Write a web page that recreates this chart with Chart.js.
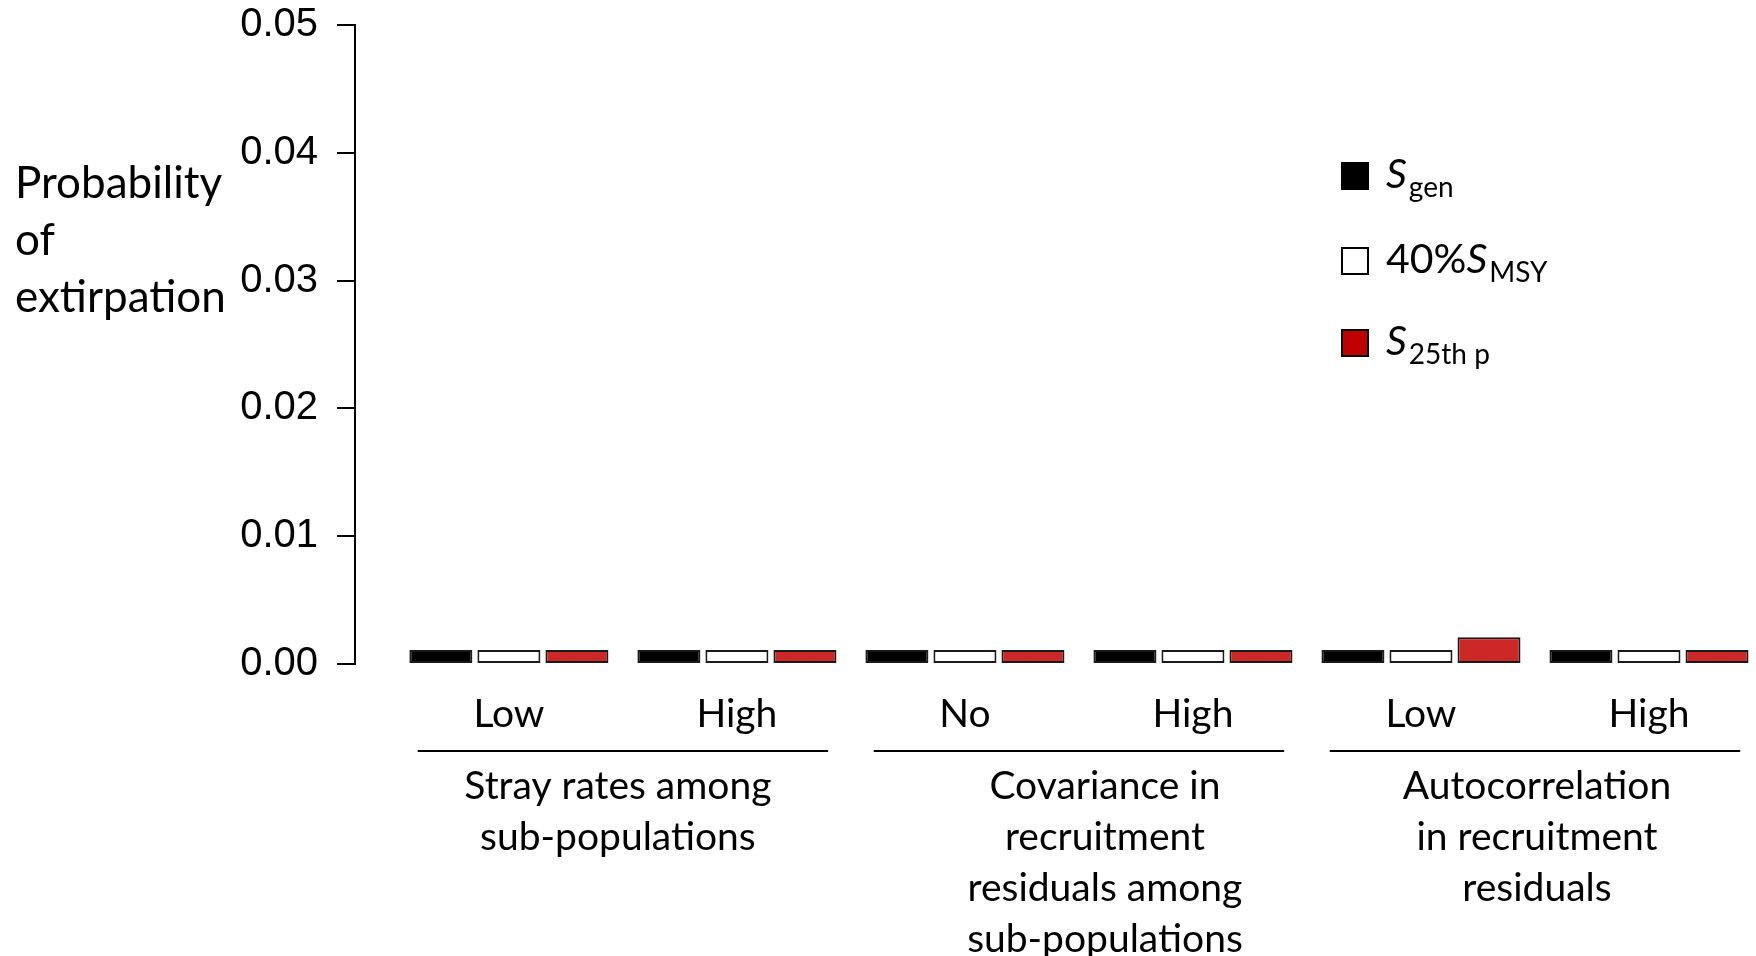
<!DOCTYPE html>
<html>
<head>
<meta charset="utf-8">
<script src="https://cdn.jsdelivr.net/npm/chart.js@4"></script>
<style>
  html, body { margin: 0; padding: 0; background: #fff; overflow: hidden; }
  #wrap { width: 1770px; height: 956px; }
</style>
</head>
<body>
<div id="wrap"><canvas id="extChart" width="1770" height="956"></canvas></div>
<script>
// categories under each bar group
const categories = ['Low', 'High', 'No', 'High', 'Low', 'High'];
// factor groups: which categories they cover, and their (multi-line) titles
const groupSpans = [[0, 1], [2, 3], [4, 5]];
const groupTitles = [
  ['Stray rates among', 'sub-populations'],
  ['Covariance in', 'recruitment', 'residuals among', 'sub-populations'],
  ['Autocorrelation', 'in recruitment', 'residuals']
];

// probability of extirpation, one value per category
const sGen  = [0.0011, 0.0011, 0.0011, 0.0011, 0.0011, 0.0011];
const s40   = [0.0011, 0.0011, 0.0011, 0.0011, 0.0011, 0.0011];
const s25th = [0.0011, 0.0011, 0.0011, 0.0011, 0.0021, 0.0011];

const yTicks = [0, 0.01, 0.02, 0.03, 0.04, 0.05];
const yTitle = ['Probability', 'of', 'extirpation'];

// legend labels as pieces: italic S + subscript
const legendParts = [
  [{ t: 'S', it: true }, { t: 'gen', sub: true }],
  [{ t: '40%' }, { t: 'S', it: true }, { t: 'MSY', sub: true }],
  [{ t: 'S', it: true }, { t: '25th p', sub: true }]
];
const legendFill = ['#000000', '#ffffff', '#c00000'];

const toXY = arr => arr.map((v, i) => ({ x: i, y: v }));

const FONT = 'Lato, "Open Sans", sans-serif';

// draws category labels, group lines + titles, y title and the legend
const annotate = {
  id: 'annotate',
  afterDraw(chart) {
    const ctx = chart.ctx;
    const xs = chart.scales.x;
    const unit = xs.getPixelForValue(1) - xs.getPixelForValue(0);
    const titleShift = [-5, 26, 2]; // titles are not quite centred in the original
    ctx.save();
    ctx.fillStyle = '#000';
    ctx.strokeStyle = '#000';

    // category labels
    ctx.font = '39px ' + FONT;
    ctx.textAlign = 'center';
    ctx.textBaseline = 'alphabetic';
    categories.forEach((c, i) => {
      ctx.fillText(c, xs.getPixelForValue(i), 727);
    });

    // group lines + titles
    groupSpans.forEach((span, g) => {
      const a = xs.getPixelForValue(span[0]);
      const b = xs.getPixelForValue(span[1]);
      ctx.lineWidth = 2;
      ctx.beginPath();
      ctx.moveTo(a - unit * 0.4, 751);
      ctx.lineTo(b + unit * 0.4, 751);
      ctx.stroke();
      const mid = (a + b) / 2 + titleShift[g];
      groupTitles[g].forEach((line, k) => {
        ctx.fillText(line, mid, 799 + k * 51);
      });
    });

    // y axis title, left aligned
    ctx.textAlign = 'left';
    ctx.font = '44px ' + FONT;
    yTitle.forEach((line, k) => {
      ctx.fillText(line, 15, 198 + k * 57);
    });

    // legend
    const ys = [176, 261, 343];
    legendParts.forEach((parts, k) => {
      const cy = ys[k];
      ctx.fillStyle = legendFill[k];
      ctx.fillRect(1342, cy - 13, 26, 26);
      ctx.lineWidth = 2;
      ctx.strokeRect(1342, cy - 13, 26, 26);
      ctx.fillStyle = '#000';
      let x = 1386;
      parts.forEach(p => {
        if (p.sub) {
          ctx.font = '28px ' + FONT;
          ctx.fillText(p.t, x, cy + 21);
        } else {
          ctx.font = (p.it ? 'italic ' : '') + '41px ' + FONT;
          ctx.fillText(p.t, x, cy + 12);
        }
        x += ctx.measureText(p.t).width + (p.it ? 2 : 0);
      });
    });
    ctx.restore();
  }
};

const barStyle = {
  borderColor: '#1a1a1a',
  borderWidth: 2,
  borderSkipped: false,
  categoryPercentage: 0.895,
  barPercentage: 0.926
};

new Chart(document.getElementById('extChart'), {
  type: 'bar',
  data: {
    datasets: [
      Object.assign({ label: 'S gen', data: toXY(sGen), backgroundColor: '#000000' }, barStyle),
      Object.assign({ label: '40% S MSY', data: toXY(s40), backgroundColor: '#ffffff' }, barStyle),
      Object.assign({ label: 'S 25th p', data: toXY(s25th), backgroundColor: '#cc2828' }, barStyle)
    ]
  },
  options: {
    responsive: false,
    animation: false,
    layout: { padding: { top: 25, right: 7, bottom: 292, left: 0 } },
    plugins: {
      legend: { display: false },
      tooltip: { enabled: false }
    },
    scales: {
      x: {
        type: 'linear',
        display: false,
        offset: false,
        min: -0.675,
        max: categories.length - 0.5,
        // one tick per category so bar widths follow the category spacing
        afterBuildTicks(s) { s.ticks = categories.map((c, i) => ({ value: i })); }
      },
      y: {
        min: yTicks[0],
        max: yTicks[yTicks.length - 1],
        afterFit(s) {
          s.width = 355;
          // let the top label overhang so 0.05 sits near the top edge
          s.paddingTop = 0;
          s.paddingBottom = 0;
        },
        afterBuildTicks(s) { s.ticks = yTicks.map(v => ({ value: v })); },
        border: { display: true, color: '#000', width: 2 },
        grid: { drawOnChartArea: false, drawTicks: true, tickLength: 18, color: '#000', lineWidth: 2 },
        ticks: {
          color: '#000',
          padding: 19,
          font: { family: '"Liberation Sans", Arial, sans-serif', size: 40 },
          callback: v => Number(v).toFixed(2)
        }
      }
    }
  },
  plugins: [annotate]
});
</script>
</body>
</html>
